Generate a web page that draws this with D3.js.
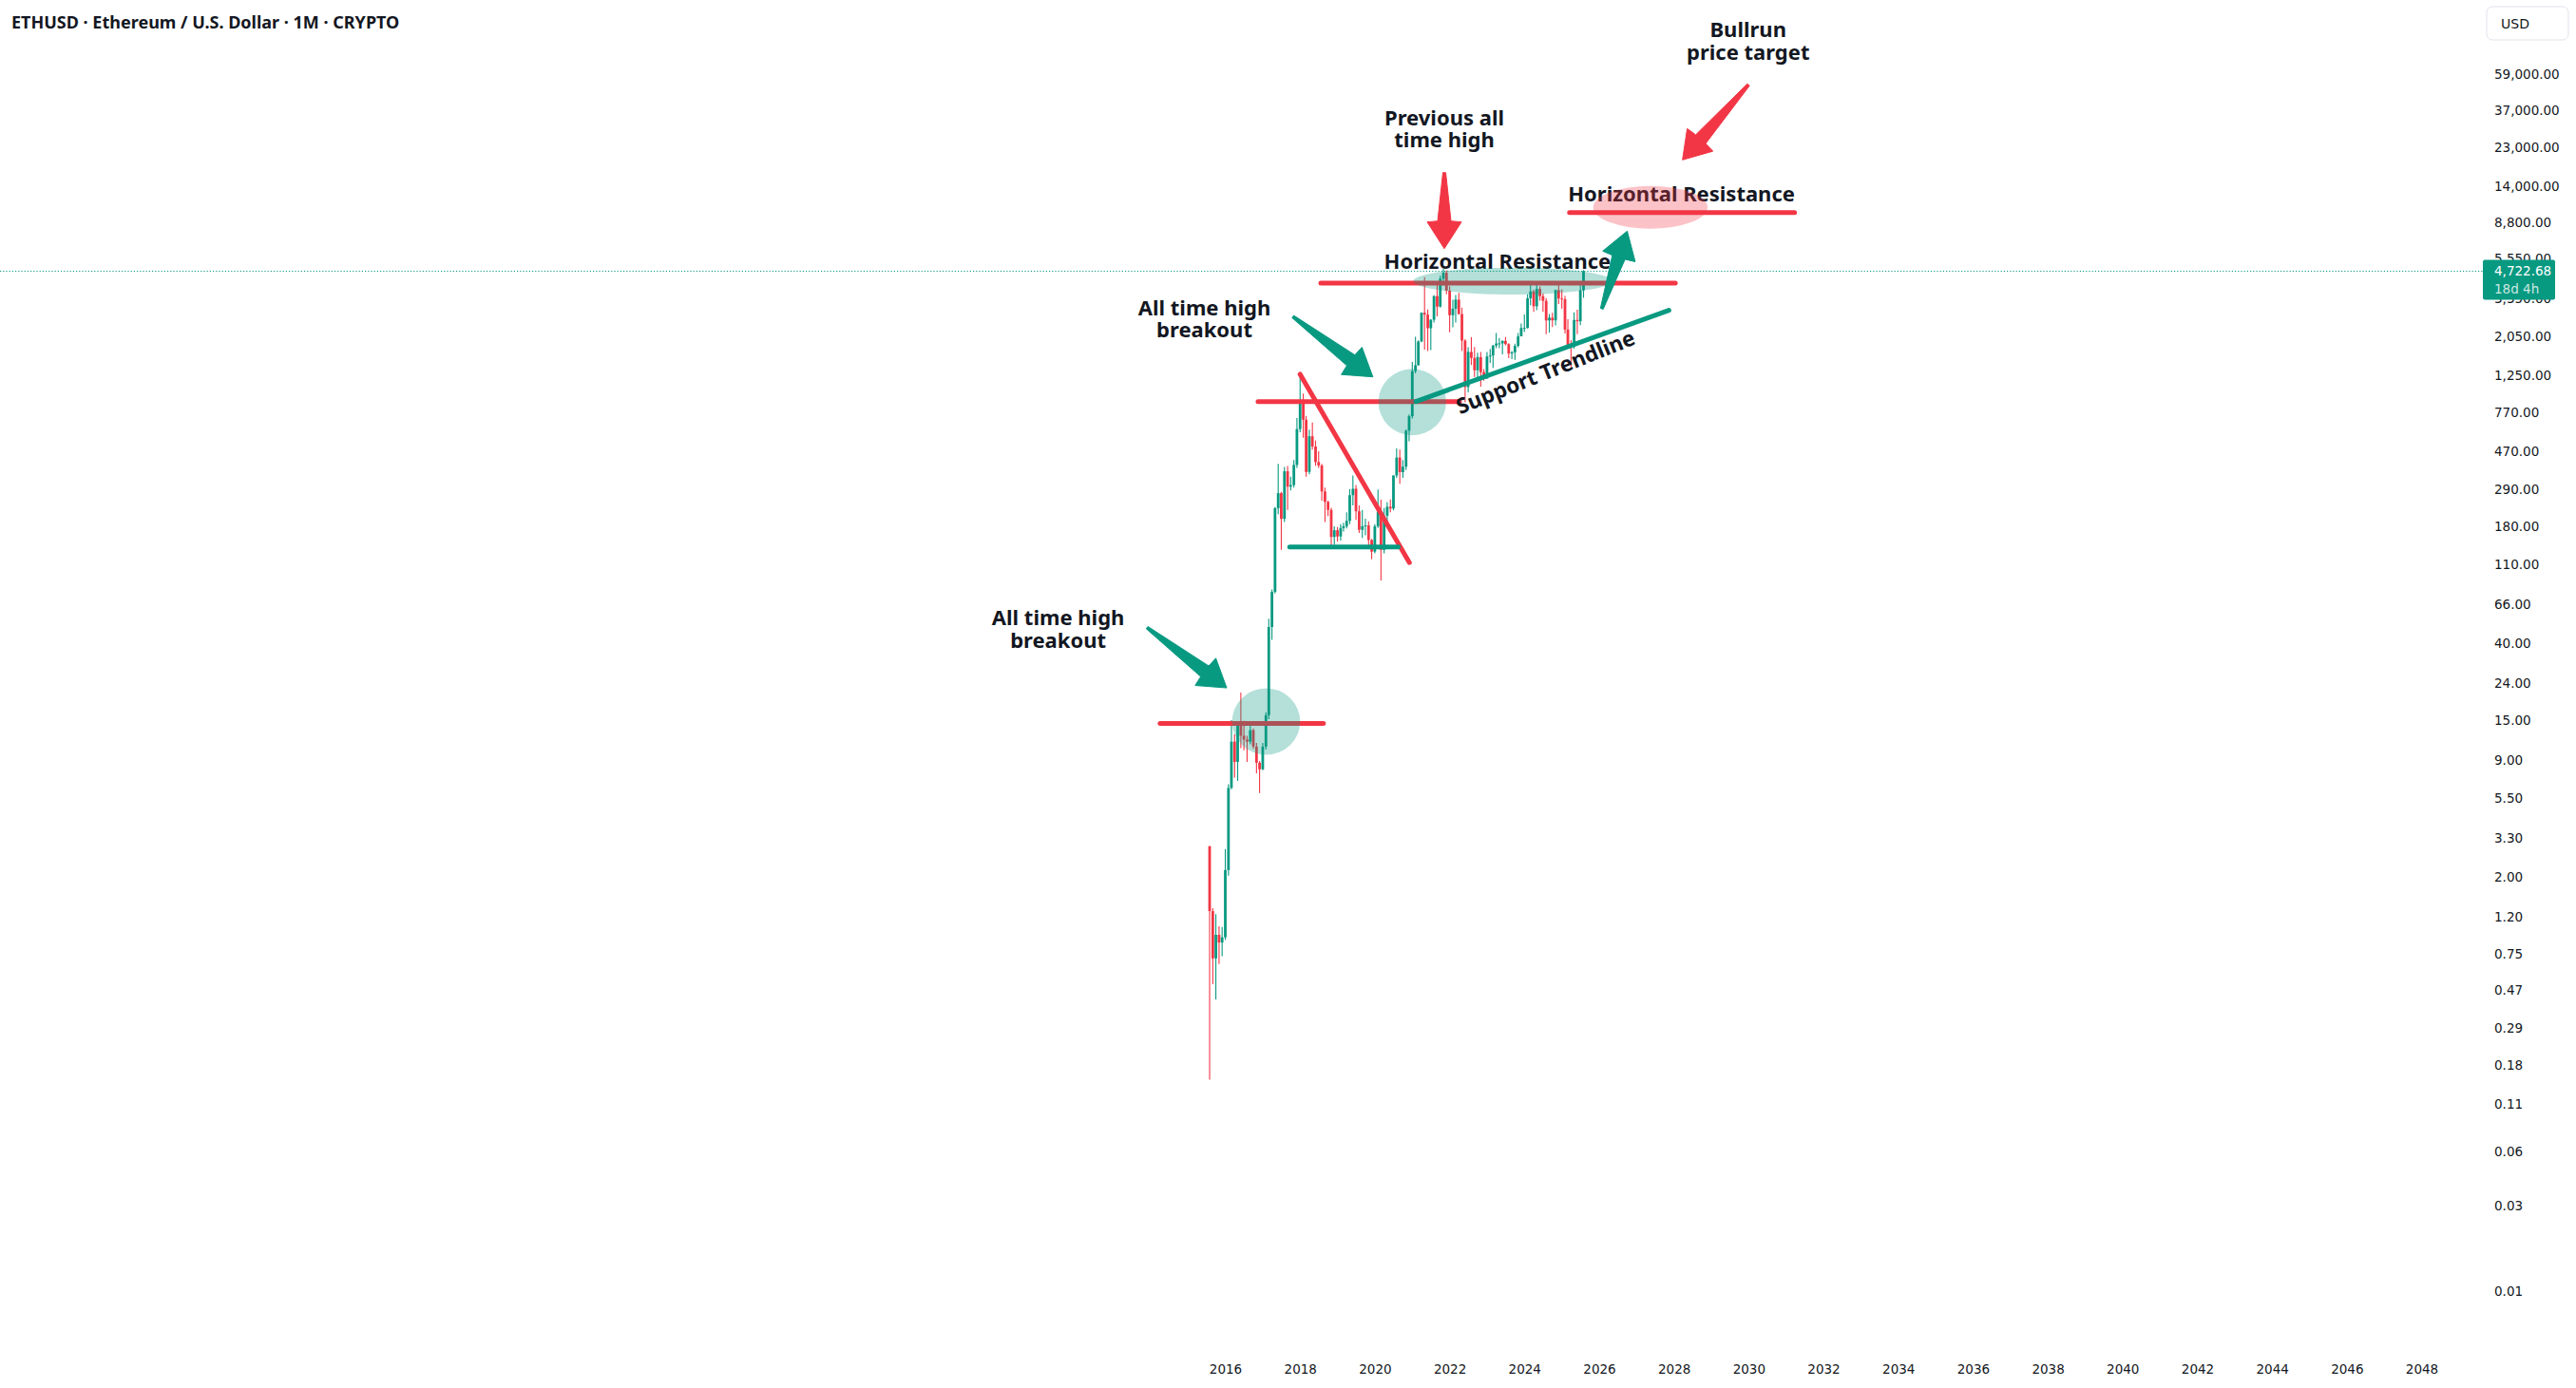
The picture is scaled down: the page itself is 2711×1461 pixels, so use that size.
<!DOCTYPE html>
<html>
<head>
<meta charset="utf-8">
<script src="https://cdn.jsdelivr.net/npm/d3@7"></script>
<style>
  html, body { margin: 0; padding: 0; background: #fff; }
  svg { display: block; }
  .axis text { font-family: "DejaVu Sans", sans-serif; font-size: 13.5px; fill: #131722; }
  .note { font-family: "Noto Sans", sans-serif; font-weight: 700; font-size: 22px; fill: #131722; }
  .title { font-family: "Noto Sans", sans-serif; font-weight: 700; font-size: 18px; fill: #131722; }
  .tag { font-family: "DejaVu Sans", sans-serif; font-size: 13.5px; fill: #fff; }
  .currency { font-family: "DejaVu Sans", sans-serif; font-size: 14px; fill: #131722; }
</style>
</head>
<body>
<div id="chart"></div>
<script>
// monthly bars, ETHUSD
const months = [
  "2015-08","2015-09","2015-10","2015-11","2015-12",
  "2016-01","2016-02","2016-03","2016-04","2016-05","2016-06","2016-07","2016-08","2016-09","2016-10","2016-11","2016-12",
  "2017-01","2017-02","2017-03","2017-04","2017-05","2017-06","2017-07","2017-08","2017-09","2017-10","2017-11","2017-12",
  "2018-01","2018-02","2018-03","2018-04","2018-05","2018-06","2018-07","2018-08","2018-09","2018-10","2018-11","2018-12",
  "2019-01","2019-02","2019-03","2019-04","2019-05","2019-06","2019-07","2019-08","2019-09","2019-10","2019-11","2019-12",
  "2020-01","2020-02","2020-03","2020-04","2020-05","2020-06","2020-07","2020-08","2020-09","2020-10","2020-11","2020-12",
  "2021-01","2021-02","2021-03","2021-04","2021-05","2021-06","2021-07","2021-08","2021-09","2021-10","2021-11","2021-12",
  "2022-01","2022-02","2022-03","2022-04","2022-05","2022-06","2022-07","2022-08","2022-09","2022-10","2022-11","2022-12",
  "2023-01","2023-02","2023-03","2023-04","2023-05","2023-06","2023-07","2023-08","2023-09","2023-10","2023-11","2023-12",
  "2024-01","2024-02","2024-03","2024-04","2024-05","2024-06","2024-07","2024-08","2024-09","2024-10","2024-11","2024-12",
  "2025-01","2025-02","2025-03","2025-04","2025-05","2025-06","2025-07","2025-08"
];

const opens = [
  2.98, 1.30, 0.71, 0.96, 0.87,
  0.93, 2.20, 6.30, 11.4, 8.80, 14.0, 12.3, 11.7, 11.4, 13.2, 10.7, 8.70,
  8.00, 10.7, 16.0, 49.5, 77.6, 227, 275, 198, 364, 299, 305, 395,
  625, 900, 705, 361, 570, 500, 410, 392, 281, 246, 222, 157,
  171, 158, 176, 180, 193, 268, 291, 218, 172, 180, 182, 151,
  130, 180, 217, 133, 206, 231, 226, 345, 434, 360, 386, 612,
  737, 1314, 1416, 1919, 2772, 2708, 2275, 2536, 3433, 3001, 4288, 4631,
  3683, 2688, 2920, 3282, 2729, 1942, 1071, 1680, 1554, 1328, 1572, 1296,
  1196, 1585, 1605, 1822, 1870, 1874, 1934, 1856, 1645, 1671, 1815, 2050,
  2282, 2283, 3340, 3646, 3015, 3763, 3434, 3232, 2514, 2603, 2518, 3707,
  3332, 3300, 2237, 1823, 1794, 2529, 2487, 3700
];

const highs = [
  3.00, 1.35, 1.25, 1.07, 1.06,
  2.88, 6.60, 15.0, 12.5, 14.8, 21.4, 14.9, 12.3, 14.2, 13.5, 11.2, 8.90,
  11.2, 16.6, 55.0, 80.0, 230, 400, 280, 385, 390, 340, 420, 721,
  1270, 985, 740, 620, 680, 540, 470, 400, 295, 250, 228, 180,
  178, 185, 188, 215, 290, 345, 305, 235, 222, 198, 192, 153,
  185, 288, 253, 227, 245, 254, 345, 488, 480, 420, 622, 755,
  1475, 2040, 1945, 2790, 4380, 2890, 2550, 3470, 4025, 4460, 4870, 4780,
  3900, 3280, 3480, 3580, 2960, 1975, 1785, 2030, 1790, 1665, 1680, 1350,
  1680, 1745, 1840, 2140, 2010, 1950, 2030, 1880, 1700, 1865, 2140, 2415,
  2715, 3520, 4090, 3725, 3975, 3890, 3560, 3345, 2730, 2770, 3740, 4107,
  3745, 3440, 2550, 1955, 2790, 2880, 3940, 4790
];

const lows = [
  0.15, 0.51, 0.42, 0.66, 0.73,
  0.90, 2.05, 6.20, 7.20, 6.90, 10.5, 10.2, 8.80, 11.0, 10.4, 7.60, 5.90,
  7.90, 10.3, 15.2, 42.0, 76.0, 210, 133, 190, 222, 285, 295, 380,
  600, 560, 340, 350, 480, 390, 380, 250, 190, 205, 140, 142,
  148, 150, 168, 175, 185, 235, 195, 165, 155, 160, 140, 118,
  127, 176, 90, 127, 178, 215, 221, 335, 310, 335, 370, 535,
  715, 1275, 1410, 1900, 1730, 1700, 1720, 2450, 2650, 2960, 3930, 3510,
  2160, 2300, 2450, 2710, 1700, 880, 1000, 1420, 1220, 1190, 1075, 1160,
  1190, 1460, 1370, 1760, 1760, 1630, 1830, 1550, 1530, 1520, 1780, 2050,
  2170, 2270, 3060, 2810, 2865, 3240, 2810, 2110, 2150, 2310, 2360, 3100,
  2920, 2125, 1760, 1385, 1750, 2110, 2370, 3360
];

const closes = [
  1.30, 0.71, 0.96, 0.87, 0.93,
  2.20, 6.30, 11.4, 8.80, 14.0, 12.3, 11.7, 11.4, 13.2, 10.7, 8.70, 8.00,
  10.7, 16.0, 49.5, 77.6, 227, 275, 198, 364, 299, 305, 395, 625,
  900, 705, 361, 570, 500, 410, 392, 281, 246, 222, 157, 171,
  158, 176, 180, 193, 268, 291, 218, 172, 180, 182, 151, 130,
  180, 217, 133, 206, 231, 226, 345, 434, 360, 386, 612, 737,
  1314, 1416, 1919, 2772, 2708, 2275, 2536, 3433, 3001, 4288, 4631, 3683,
  2688, 2920, 3282, 2729, 1942, 1071, 1680, 1554, 1328, 1572, 1296, 1196,
  1585, 1605, 1822, 1870, 1874, 1934, 1856, 1645, 1671, 1815, 2050, 2282,
  2283, 3340, 3646, 3015, 3763, 3434, 3232, 2514, 2603, 2518, 3707, 3332,
  3300, 2237, 1823, 1794, 2529, 2487, 3700, 4722.68
];

const priceTicks = [59000, 37000, 23000, 14000, 8800, 5550, 3350, 2050, 1250, 770, 470, 290, 180, 110,
  66, 40, 24, 15, 9, 5.5, 3.3, 2, 1.2, 0.75, 0.47, 0.29, 0.18, 0.11, 0.06, 0.03, 0.01];

const titleText = "ETHUSD · Ethereum / U.S. Dollar · 1M · CRYPTO";
const currency = "USD";
const countdown = "18d 4h";

// drawings, in (date, price)
const redLines = [
  { from: "2014-04-04", to: "2018-08-17", p0: 14.4, p1: 14.4 },
  { from: "2016-11-16", to: "2022-04-08", p0: 889, p1: 889 },
  { from: "2018-07-22", to: "2028-01-15", p0: 4060, p1: 4060 },
  { from: "2025-03-17", to: "2031-03-25", p0: 10000, p1: 10000 },
  { from: "2018-01-01", to: "2020-12-04", p0: 1261, p1: 113 }
];
const greenLines = [
  { from: "2017-09-21", to: "2020-08-17", p0: 138, p1: 138 }
];
const supportTrend = { from: "2021-02-05", to: "2027-11-13", p0: 889, p1: 2860 };

const tealZones = [
  { from: "2016-03-08", to: "2018-01-01", top: 22.6, bottom: 9.63 },
  { from: "2020-02-05", to: "2021-11-28", top: 1352, bottom: 577 },
  { from: "2021-01-13", to: "2026-05-06", top: 4945, bottom: 3505 }
];
const pinkZones = [
  { from: "2025-11-04", to: "2028-11-25", top: 14090, bottom: 8146 }
];

const greenArrows = [
  { from: "2013-11-28", to: "2016-01-15", p0: 49.1, p1: 22.7 },
  { from: "2017-10-23", to: "2019-12-13", p0: 2639, p1: 1220 },
  { from: "2026-01-27", to: "2026-10-02", p0: 2920, p1: 7895 }
];
const redArrows = [
  { from: "2021-11-10", to: "2021-11-10", p0: 16700, p1: 6310 },
  { from: "2029-12-29", to: "2028-03-25", p0: 51440, p1: 19660 }
];

const notes = [
  { lines: ["All time high", "breakout"], at: "2011-07-13", price: 50.7 },
  { lines: ["All time high", "breakout"], at: "2015-06-11", price: 2692 },
  { lines: ["Previous all", "time high"], at: "2021-11-10", price: 30700 },
  { lines: ["Bullrun", "price target"], at: "2029-12-26", price: 94500 },
  { lines: ["Horizontal Resistance"], at: "2023-04-13", price: 4852 },
  { lines: ["Horizontal Resistance"], at: "2028-03-15", price: 11600 }
];
const trendNote = { text: "Support Trendline", at: "2024-08-22", price: 1185 };

let generateChart = () => {

    let width = 2711;
    let height = 1461;
    let scaleLeft = 2617;
    let upColor = "#089981";
    let downColor = "#F23645";
    let bodyWidth = 2.8;
    let lineGap = 23.7;
    let lineWidth = 5;

    let parseMonth = d3.utcParse("%Y-%m");
    let parseDay = d3.utcParse("%Y-%m-%d");

    let candles = months.map((m, i) => ({
        date: parseMonth(m), o: opens[i], h: highs[i], l: lows[i], c: closes[i]
    }));
    let lastPrice = closes[closes.length - 1];

    /* Add SVG */
    let svg = d3.select("#chart").append("svg")
    .attr("width", width)
    .attr("height", height);

    let x = d3.scaleUtc()
    .domain([parseMonth("2016-01"), parseMonth("2048-01")])
    .range([1289.5, 2548.5]);

    let y = d3.scaleLog()
    .domain([0.01, 59000])
    .range([1359, 78]);

    /* Axes */
    svg.append("g")
    .attr("class", "y axis")
    .attr("transform", `translate(${scaleLeft}, 0)`)
    .call(d3.axisRight(y).tickValues(priceTicks).tickFormat(d3.format(",.2f")).tickSize(0).tickPadding(8))
    .call(g => g.select(".domain").remove());

    svg.append("g")
    .attr("class", "x axis")
    .attr("transform", "translate(0, 1428)")
    .call(d3.axisBottom(x).ticks(d3.utcYear.every(2)).tickFormat(d3.utcFormat("%Y")).tickSize(0).tickPadding(8))
    .call(g => g.select(".domain").remove());

    /* Title and currency box */
    svg.append("text")
    .attr("class", "title")
    .attr("x", 12)
    .attr("y", 30)
    .text(titleText);

    svg.append("rect")
    .attr("x", scaleLeft)
    .attr("y", 7)
    .attr("width", 86)
    .attr("height", 35)
    .attr("rx", 6)
    .attr("fill", "#fff")
    .attr("stroke", "#e0e3eb");

    svg.append("text")
    .attr("class", "currency")
    .attr("x", scaleLeft + 15)
    .attr("y", 29.5)
    .text(currency);

    /* Last price line */
    svg.append("line")
    .attr("x1", 0)
    .attr("x2", scaleLeft - 4)
    .attr("y1", y(lastPrice))
    .attr("y2", y(lastPrice))
    .attr("stroke", upColor)
    .attr("stroke-width", 1)
    .attr("stroke-dasharray", "1.2,2");

    /* Candles */
    let bars = svg.append("g")
    .attr("class", "candles")
    .selectAll("g")
    .data(candles).enter()
    .append("g")
    .attr("fill", d => d.c >= d.o ? upColor : downColor)
    .attr("stroke", d => d.c >= d.o ? upColor : downColor);

    bars.append("line")
    .attr("x1", d => x(d.date))
    .attr("x2", d => x(d.date))
    .attr("y1", d => y(d.h))
    .attr("y2", d => y(d.l))
    .attr("stroke-width", 1.1);

    bars.append("rect")
    .attr("x", d => x(d.date) - bodyWidth / 2)
    .attr("y", d => y(Math.max(d.o, d.c)))
    .attr("width", bodyWidth)
    .attr("height", d => Math.max(1, Math.abs(y(d.o) - y(d.c))))
    .attr("stroke", "none");

    /* Lines */
    let drawLines = (data, color) => {
        svg.append("g")
        .selectAll("line")
        .data(data).enter()
        .append("line")
        .attr("x1", d => x(parseDay(d.from)))
        .attr("x2", d => x(parseDay(d.to)))
        .attr("y1", d => y(d.p0))
        .attr("y2", d => y(d.p1))
        .attr("stroke", color)
        .attr("stroke-width", lineWidth)
        .attr("stroke-linecap", "round");
    };
    drawLines(redLines, downColor);
    drawLines(greenLines.concat([supportTrend]), upColor);

    /* Text notes, one text per line */
    let noteLines = notes.flatMap(n => n.lines.map((t, i) => ({ t: t, at: n.at, price: n.price, row: i })));
    svg.append("g")
    .selectAll("text")
    .data(noteLines).enter()
    .append("text")
    .attr("class", "note")
    .attr("text-anchor", "middle")
    .attr("x", d => x(parseDay(d.at)))
    .attr("y", d => y(d.price) + d.row * lineGap)
    .text(d => d.t);

    let tx0 = x(parseDay(supportTrend.from)), tx1 = x(parseDay(supportTrend.to));
    let angle = Math.atan2(y(supportTrend.p1) - y(supportTrend.p0), tx1 - tx0) * 180 / Math.PI - 2;
    let nx = x(parseDay(trendNote.at)), ny = y(trendNote.price);
    svg.append("text")
    .attr("class", "note")
    .attr("text-anchor", "middle")
    .attr("x", nx)
    .attr("y", ny)
    .style("font-size", "22.5px")
    .attr("transform", `rotate(${angle}, ${nx}, ${ny})`)
    .text(trendNote.text);

    /* Ellipses */
    let drawZones = (data, color) => {
        svg.append("g")
        .selectAll("ellipse")
        .data(data).enter()
        .append("ellipse")
        .attr("cx", d => (x(parseDay(d.from)) + x(parseDay(d.to))) / 2)
        .attr("cy", d => (y(d.top) + y(d.bottom)) / 2)
        .attr("rx", d => (x(parseDay(d.to)) - x(parseDay(d.from))) / 2)
        .attr("ry", d => (y(d.bottom) - y(d.top)) / 2)
        .attr("fill", color)
        .attr("fill-opacity", 0.3);
    };
    drawZones(tealZones, upColor);
    drawZones(pinkZones, downColor);

    /* Arrows */
    let arrowPath = (x0, y0, x1, y1) => {
        let len = Math.hypot(x1 - x0, y1 - y0);
        let ux = (x1 - x0) / len, uy = (y1 - y0) / len;
        let px = -uy, py = ux;
        let pt = (back, side) => [x1 - ux * back + px * side, y1 - uy * back + py * side];
        let pts = [pt(len, 1.5), pt(29, 7), pt(28, 18), [x1, y1], pt(28, -18), pt(29, -7), pt(len, -1.5)];
        return d3.line()(pts) + "Z";
    };
    let drawArrows = (data, color) => {
        svg.append("g")
        .selectAll("path")
        .data(data).enter()
        .append("path")
        .attr("d", d => arrowPath(x(parseDay(d.from)), y(d.p0), x(parseDay(d.to)), y(d.p1)))
        .attr("fill", color)
        .attr("stroke", color)
        .attr("stroke-width", 1)
        .attr("stroke-linejoin", "round");
    };
    drawArrows(greenArrows, upColor);
    drawArrows(redArrows, downColor);

    /* Last price tag */
    let yl = y(lastPrice);
    svg.append("rect")
    .attr("x", scaleLeft - 4)
    .attr("y", yl - 12)
    .attr("width", 76)
    .attr("height", 42)
    .attr("rx", 2)
    .attr("fill", upColor);

    svg.append("text")
    .attr("class", "tag")
    .attr("x", scaleLeft + 8)
    .attr("y", yl + 5)
    .text(d3.format(",.2f")(lastPrice));

    svg.append("text")
    .attr("class", "tag")
    .attr("x", scaleLeft + 8)
    .attr("y", yl + 24)
    .attr("fill-opacity", 0.8)
    .text(countdown);
};

generateChart();
</script>
</body>
</html>
